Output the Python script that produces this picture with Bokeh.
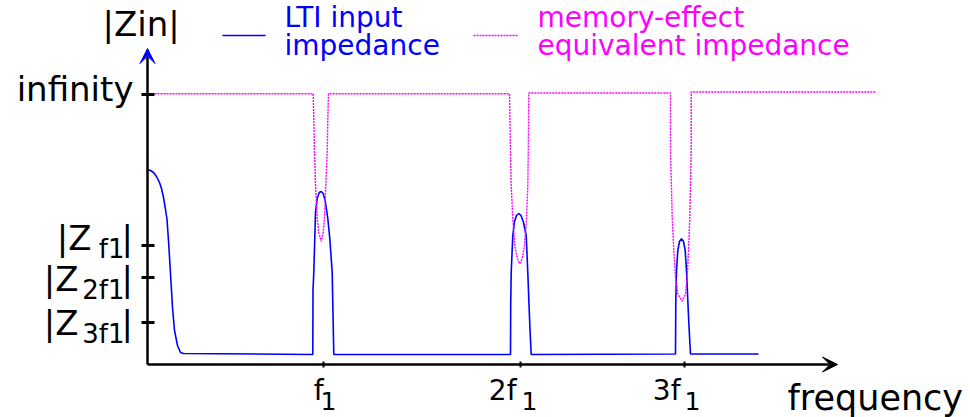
from bokeh.plotting import figure
from bokeh.models import Arrow, VeeHead, Range1d, ColumnDataSource
from bokeh.core.properties import value
from bokeh.embed import file_html
from bokeh.resources import INLINE

# ---------------- data (drawing units) ----------------
# frequency axis ticks
freq_ticks = [176, 373, 537]
freq_tick_main = ["f", "2f", "3f"]
freq_tick_sub = ["1", "1", "1"]

# |Zin| axis ticks
z_inf = 270
z_ticks = [119, 87, 42]
z_tick_main = ["|Z", "|Z", "|Z"]
z_tick_sub = ["f1", "2f1", "3f1"]

# LTI input impedance (blue)
lti_f = [0, 3, 6, 9, 12, 14, 16, 18, 19.5, 21, 23, 25, 27, 30, 33, 36, 165,
         165.3, 165.5, 166.3, 168, 169.7, 171.7, 173.7, 175.7, 177.7, 180.3, 182.3, 184.7, 185.7, 186.3,
         363, 363.2, 363.7, 365.3, 367, 369, 371.3, 373.5, 376, 378.7, 380.3, 381.5, 382.5, 383.7,
         528, 528.3, 529, 530.3, 532, 534, 536, 537.7, 539, 540.3, 541.7, 543, 611]
lti_z = [195, 194, 192, 188, 182, 176, 167, 155, 145, 124, 91, 57, 34, 19, 12, 11, 10,
         10, 74, 92, 152, 166, 172, 173, 171, 164, 146, 126, 92, 40, 10,
         10, 60, 92, 129, 143, 149, 151, 149, 142, 129, 92, 60, 35, 10,
         10.5, 64, 94, 114, 123, 125.7, 123, 114, 94, 64, 34, 10.5, 10.5]

# memory-effect equivalent impedance (magenta)
mem_f = [1, 165.7, 166.3, 167, 168, 169.7, 171.3, 173.7, 175.7, 177, 178.3, 179.7, 180.3, 181,
         362, 362.7, 363.7, 365.3, 367.3, 370, 372.3, 374.7, 377, 379, 380.3, 381, 381.3,
         523, 523, 524.7, 526.3, 528, 530.3, 534.7, 538, 539.7, 541, 542.3, 543.7, 543.7, 728]
mem_z = [270.7, 270.7, 245.7, 212.3, 179, 145.7, 132.3, 123, 132.3, 145.7, 179, 212.3, 245.7, 270.7,
         270.7, 229, 179, 145.7, 119, 105.7, 100.7, 105.7, 119, 145.7, 179, 229, 271.5,
         271.5, 214, 147.3, 114, 87.3, 70.7, 63.3, 70.7, 87.3, 114, 147.3, 214, 272.5, 272.5]

legend_lti = ["LTI input", "impedance"]
legend_mem = ["memory-effect", "equivalent impedance"]

# ---------------- styling / layout ----------------
FONT = value("DejaVu Sans")
BLUE = "#0000ff"
MAG = "#ff00ff"
W, H = 970, 417
OX, OY = 147, 364   # where the axes cross, in window pixels
TY = 10             # baseline correction for text placement

p = figure(width=W, height=H, x_range=Range1d(-OX, W - OX), y_range=Range1d(OY - H, OY),
           toolbar_location=None, output_backend="svg", x_axis_type=None, y_axis_type=None,
           min_border=0)
p.outline_line_color = None
p.background_fill_color = "white"

# curves
p.line(lti_f, lti_z, line_color=BLUE, line_width=1.6)
p.line(mem_f, mem_z, line_color=MAG, line_width=1.4, line_dash="2 1")

# axes with arrows
p.add_layout(Arrow(end=VeeHead(size=15, fill_color="black", line_color="black"),
                   x_start=0, y_start=0, x_end=690, y_end=0, line_width=2.5, line_color="black"))
p.add_layout(Arrow(end=VeeHead(size=15, fill_color=BLUE, line_color=BLUE),
                   x_start=0, y_start=0, x_end=0, y_end=316, line_width=2.5, line_color="black"))

# y ticks (crossing the axis)
all_z = [z_inf] + z_ticks
p.segment(x0=[-6] * len(all_z), y0=all_z, x1=[7] * len(all_z), y1=all_z,
          line_color="black", line_width=3)
# x ticks
p.segment(x0=freq_ticks, y0=[-3] * len(freq_ticks), x1=freq_ticks, y1=[3] * len(freq_ticks),
          line_color="black", line_width=2)

# axis titles
p.text(x=[-45], y=[331 + TY], text=["|Zin|"], text_font=FONT, text_font_size=value("34px"),
       text_color="black", text_baseline="alphabetic", text_align="left")
p.text(x=[640], y=[-43 + TY], text=["frequency"], text_font=FONT, text_font_size=value("35px"),
       text_color="black", text_baseline="alphabetic", text_align="left")

# y tick labels
p.text(x=[-14], y=[z_inf - 4.5 + TY], text=["infinity"], text_font=FONT, text_font_size=value("34px"),
       text_color="black", text_baseline="alphabetic", text_align="right")
main_dx = [-56, -69, -69]
main_dy = [2, 11, 10]
zm = ColumnDataSource(dict(x=main_dx, y=[t - d + TY for t, d in zip(z_ticks, main_dy)], t=z_tick_main))
p.text(x="x", y="y", text="t", source=zm, text_font=FONT, text_font_size=value("34px"),
       text_color="black", text_baseline="alphabetic", text_align="right")
zs = ColumnDataSource(dict(x=[-23] * 3, y=[t - d - 11 + TY for t, d in zip(z_ticks, main_dy)], t=z_tick_sub))
p.text(x="x", y="y", text="t", source=zs, text_font=FONT, text_font_size=value("26px"),
       text_color="black", text_baseline="alphabetic", text_align="right")
zc = ColumnDataSource(dict(x=[-26] * 3, y=[t - d + TY for t, d in zip(z_ticks, main_dy)], t=["|"] * 3))
p.text(x="x", y="y", text="t", source=zc, text_font=FONT, text_font_size=value("34px"),
       text_color="black", text_baseline="alphabetic", text_align="left")

# x tick labels
fm = ColumnDataSource(dict(x=[f + d for f, d in zip(freq_ticks, [0, -4, -4])], y=[-36 + TY] * 3, t=freq_tick_main))
p.text(x="x", y="y", text="t", source=fm, text_font=FONT, text_font_size=value("28px"),
       text_color="black", text_baseline="alphabetic", text_align="right")
fs = ColumnDataSource(dict(x=[f + d for f, d in zip(freq_ticks, [-3, 1, 0])], y=[-46 + TY] * 3, t=freq_tick_sub))
p.text(x="x", y="y", text="t", source=fs, text_font=FONT, text_font_size=value("25px"),
       text_color="black", text_baseline="alphabetic", text_align="left")

# legend
p.segment(x0=[75], y0=[329], x1=[118], y1=[329], line_color=BLUE, line_width=1.6)
p.segment(x0=[326], y0=[329], x1=[370], y1=[329], line_color=MAG, line_width=1.4, line_dash="2 1")
p.text(x=[137, 137], y=[337 + TY, 309 + TY], text=legend_lti, text_font=FONT, text_font_size=value("28px"),
       text_color=BLUE, text_baseline="alphabetic", text_align="left")
p.text(x=[390, 390], y=[337 + TY, 309 + TY], text=legend_mem, text_font=FONT, text_font_size=value("28px"),
       text_color=MAG, text_baseline="alphabetic", text_align="left")

open("out.html", "w").write(file_html(p, INLINE))
